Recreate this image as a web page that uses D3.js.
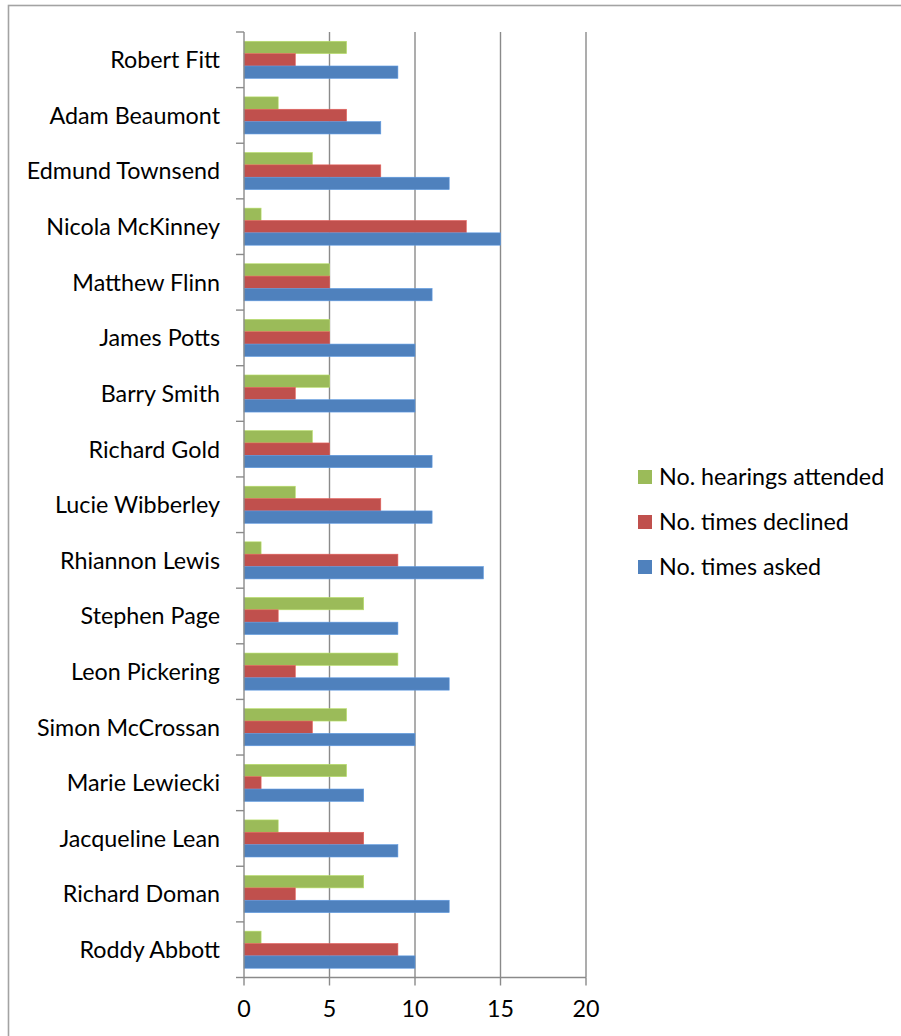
<!DOCTYPE html>
<html>
<head>
<meta charset="utf-8">
<script src="https://cdn.jsdelivr.net/npm/d3@7"></script>
<style>
  html, body { margin: 0; padding: 0; background: #fff; }
  svg { display: block; }
  text { font-family: Lato, "Open Sans", sans-serif; fill: #000; }
</style>
</head>
<body>
<svg id="chart" width="901" height="1036"></svg>
<script>
// Panel members, listed top to bottom
const names = [
  "Robert Fitt", "Adam Beaumont", "Edmund Townsend", "Nicola McKinney",
  "Matthew Flinn", "James Potts", "Barry Smith", "Richard Gold",
  "Lucie Wibberley", "Rhiannon Lewis", "Stephen Page", "Leon Pickering",
  "Simon McCrossan", "Marie Lewiecki", "Jacqueline Lean", "Richard Doman",
  "Roddy Abbott"
];
const hearingsAttended = [6, 2, 4, 1, 5, 5, 5, 4, 3, 1, 7, 9, 6, 6, 2, 7, 1];
const timesDeclined    = [3, 6, 8, 13, 5, 5, 3, 5, 8, 9, 2, 3, 4, 1, 7, 3, 9];
const timesAsked       = [9, 8, 12, 15, 11, 10, 10, 11, 11, 14, 9, 12, 10, 7, 9, 12, 10];

const seriesNames = ["No. hearings attended", "No. times declined", "No. times asked"];
const seriesColors = ["#9BBB59", "#C0504D", "#4F81BD"];
const seriesValues = [hearingsAttended, timesDeclined, timesAsked];
const xTicks = [0, 5, 10, 15, 20];

const svg = d3.select("#chart");
const gridColor = "#8a8a8a";
const fontSize = 23.3;

// Outer chart frame
svg.append("rect")
  .attr("x", 8.5).attr("y", 5.5)
  .attr("width", 1000).attr("height", 1100)
  .attr("fill", "none")
  .attr("stroke", "#a3a3a3")
  .attr("stroke-width", 1.6);

const plot = { left: 244, right: 586, top: 32, bottom: 977.5 };

const x = d3.scaleLinear().domain([0, 20]).range([plot.left, plot.right]);
const y = d3.scaleBand().domain(names).range([plot.top, plot.bottom]).padding(0);
const ySub = d3.scaleBand().domain(seriesNames)
  .range([y.bandwidth() / 6, y.bandwidth() * 5 / 6]).padding(0);

// Vertical gridlines
svg.append("g").selectAll("line")
  .data(xTicks.filter(t => t > 0))
  .join("line")
  .attr("x1", d => x(d)).attr("x2", d => x(d))
  .attr("y1", plot.top).attr("y2", plot.bottom)
  .attr("stroke", gridColor).attr("stroke-width", 1.4);

// Bars
const rows = names.map((n, i) => ({ name: n, values: seriesValues.map((s, k) => ({ series: seriesNames[k], color: seriesColors[k], value: s[i] })) }));
const groups = svg.append("g").selectAll("g")
  .data(rows).join("g")
  .attr("transform", d => `translate(0,${y(d.name)})`);
groups.selectAll("rect")
  .data(d => d.values).join("rect")
  .attr("x", x(0))
  .attr("y", d => ySub(d.series))
  .attr("width", d => x(d.value) - x(0))
  .attr("height", ySub.bandwidth())
  .attr("fill", d => d.color)
  .attr("stroke", d => d3.color(d.color).brighter(0.5))
  .attr("stroke-width", 0.6);

// Category axis (left)
const yAxis = svg.append("g")
  .attr("transform", `translate(${plot.left},0)`);
yAxis.append("line")
  .attr("x1", 0).attr("x2", 0)
  .attr("y1", plot.top).attr("y2", plot.bottom)
  .attr("stroke", gridColor).attr("stroke-width", 1.4);
const boundaries = names.map(n => y(n)).concat([plot.bottom]);
yAxis.selectAll("line.tick")
  .data(boundaries).join("line")
  .attr("class", "tick")
  .attr("x1", -8).attr("x2", 0)
  .attr("y1", d => d).attr("y2", d => d)
  .attr("stroke", gridColor).attr("stroke-width", 1.4);
yAxis.selectAll("text")
  .data(names).join("text")
  .attr("x", -24)
  .attr("y", d => y(d) + y.bandwidth() / 2)
  .attr("dy", "0.36em")
  .attr("text-anchor", "end")
  .attr("font-size", fontSize)
  .text(d => d);

// Value axis (bottom)
const xAxis = svg.append("g")
  .attr("transform", `translate(0,${plot.bottom})`);
xAxis.append("line")
  .attr("x1", plot.left).attr("x2", plot.right)
  .attr("stroke", gridColor).attr("stroke-width", 1.4);
xAxis.selectAll("line.tick")
  .data(xTicks).join("line")
  .attr("class", "tick")
  .attr("x1", d => x(d)).attr("x2", d => x(d))
  .attr("y1", 0).attr("y2", 8)
  .attr("stroke", gridColor).attr("stroke-width", 1.4);
xAxis.selectAll("text")
  .data(xTicks).join("text")
  .attr("x", d => x(d))
  .attr("y", 31)
  .attr("dy", "0.36em")
  .attr("text-anchor", "middle")
  .attr("font-size", fontSize)
  .text(d => d);

// Legend
const legend = svg.append("g").attr("transform", "translate(638,477)");
const legendRows = legend.selectAll("g")
  .data(seriesNames.map((s, k) => ({ name: s, color: seriesColors[k] })))
  .join("g")
  .attr("transform", (d, i) => `translate(0,${i * 45})`);
legendRows.append("rect")
  .attr("x", 0).attr("y", -7)
  .attr("width", 14).attr("height", 14)
  .attr("fill", d => d.color);
legendRows.append("text")
  .attr("x", 21).attr("y", 0)
  .attr("dy", "0.36em")
  .attr("font-size", fontSize)
  .text(d => d.name);
</script>
</body>
</html>
